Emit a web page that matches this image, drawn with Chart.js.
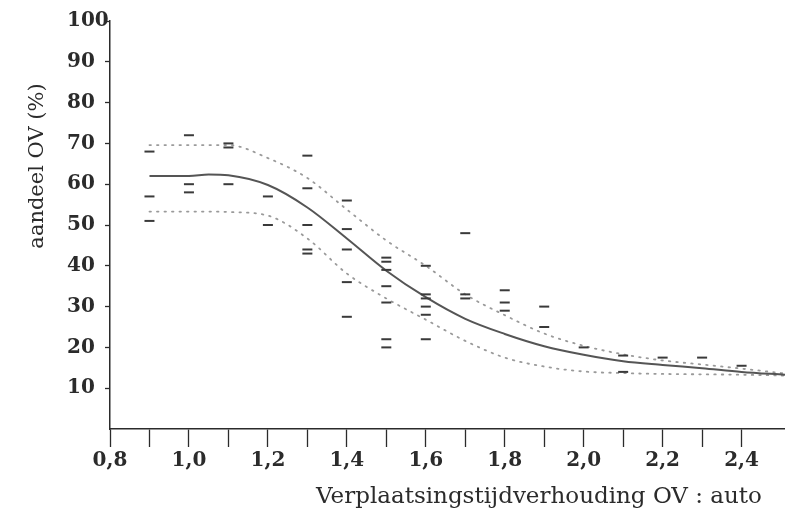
<!DOCTYPE html>
<html>
<head>
<meta charset="utf-8">
<script src="https://cdn.jsdelivr.net/npm/chart.js@4"></script>
<style>
  body { margin: 0; background: #fff; }
  #wrap { width: 785px; height: 513px; }
</style>
</head>
<body>
<div id="wrap"><canvas id="chart"></canvas></div>
<script>
// Observed shares (dash markers)
const obsX = [0.9, 0.9, 0.9, 1.0, 1.0, 1.0, 1.1, 1.1, 1.1, 1.2, 1.2,
  1.3, 1.3, 1.3, 1.3, 1.3, 1.4, 1.4, 1.4, 1.4, 1.4,
  1.5, 1.5, 1.5, 1.5, 1.5, 1.5, 1.5, 1.6, 1.6, 1.6, 1.6, 1.6, 1.6,
  1.7, 1.7, 1.7, 1.8, 1.8, 1.8, 1.9, 1.9, 2.0, 2.1, 2.1, 2.2, 2.3, 2.4];
const obsY = [68, 57, 51, 72, 60, 58, 70, 69, 60, 57, 50,
  67, 59, 50, 44, 43, 56, 49, 44, 36, 27.5,
  42, 41, 39, 35, 31, 22, 20, 40, 33, 32, 30, 28, 22,
  48, 33, 32, 34, 31, 29, 30, 25, 20, 18, 14, 17.5, 17.5, 15.5];

// Fitted curve and its band
const fitX = [0.9, 1.0, 1.05, 1.1, 1.2, 1.3, 1.4, 1.5, 1.6, 1.7, 1.8, 1.9, 2.0, 2.1, 2.2, 2.3, 2.4, 2.51];
const fitY = [62, 62, 62.4, 62.2, 59.8, 54.3, 46.7, 38.8, 32.3, 27.0, 23.3, 20.3, 18.2, 16.6, 15.7, 14.9, 14.0, 13.3];
const upperY = [69.6, 69.6, 69.6, 69.6, 66.4, 61.5, 53.8, 46.2, 40.0, 33.0, 27.9, 23.4, 20.4, 18.3, 16.8, 15.8, 14.8, 13.6];
const lowerY = [53.3, 53.3, 53.3, 53.2, 52.3, 46.7, 38.1, 32.0, 26.8, 21.6, 17.5, 15.3, 14.1, 13.7, 13.5, 13.4, 13.3, 13.1];

const xTitle = "Verplaatsingstijdverhouding OV : auto";
const yTitle = "aandeel OV (%)";

const ink = "#2b2b2b";
const tickFont = { family: "DejaVu Serif", size: 20, weight: "bold" };

function pairs(xs, ys) {
  return xs.map((x, i) => ({ x: x, y: ys[i] }));
}

// Axis titles sit off-centre in the original, so draw them ourselves
const axisTitles = {
  id: "axisTitles",
  afterDraw(chart) {
    const ctx = chart.ctx;
    const area = chart.chartArea;
    ctx.save();
    ctx.fillStyle = ink;
    ctx.textAlign = "center";
    ctx.textBaseline = "middle";
    ctx.font = '23px "DejaVu Serif"';
    ctx.fillText(xTitle, area.right - 246, area.bottom + 68);
    ctx.font = '21px "DejaVu Serif"';
    ctx.translate(area.left - 72, area.top + 145);
    ctx.rotate(-Math.PI / 2);
    ctx.fillText(yTitle, 0, 0);
    ctx.restore();
  },
};

const ctx = document.getElementById("chart").getContext("2d");

new Chart(ctx, {
  type: "scatter",
  data: {
    datasets: [
      {
        label: "waarnemingen",
        data: pairs(obsX, obsY),
        pointStyle: "line",
        pointRadius: 5,
        borderColor: "#3a3a3a",
        borderWidth: 2,
        backgroundColor: "#3a3a3a",
      },
      {
        type: "line",
        label: "model",
        data: pairs(fitX, fitY),
        borderColor: "#555",
        borderWidth: 2,
        pointRadius: 0,
        cubicInterpolationMode: "monotone",
      },
      {
        type: "line",
        label: "bovengrens",
        data: pairs(fitX, upperY),
        borderColor: "#9a9a9a",
        borderWidth: 1.8,
        borderDash: [1.5, 6],
        borderCapStyle: "round",
        pointRadius: 0,
        cubicInterpolationMode: "monotone",
      },
      {
        type: "line",
        label: "ondergrens",
        data: pairs(fitX, lowerY),
        borderColor: "#9a9a9a",
        borderWidth: 1.8,
        borderDash: [1.5, 6],
        borderCapStyle: "round",
        pointRadius: 0,
        cubicInterpolationMode: "monotone",
      },
    ],
  },
  options: {
    responsive: true,
    maintainAspectRatio: false,
    animation: false,
    layout: {
      autoPadding: false, // otherwise the dash markers push the right edge in
      padding: { top: 21, right: 0, left: 67, bottom: 0 },
    },
    plugins: {
      legend: { display: false },
      tooltip: { enabled: false },
    },
    scales: {
      x: {
        type: "linear",
        min: 0.8,
        max: 2.51,
        afterBuildTicks: (scale) => {
          scale.ticks = [];
          for (let i = 8; i <= 24; i++) scale.ticks.push({ value: i / 10 });
        },
        afterFit: (scale) => {
          scale.height = 84;
          scale.paddingRight = 0;
        },
        ticks: {
          color: ink,
          font: tickFont,
          padding: 2,
          maxRotation: 0,
          autoSkip: false,
          callback: (v) => (Math.round(v * 10) % 2 === 0 ? v.toFixed(1).replace(".", ",") : ""),
        },
        grid: {
          drawOnChartArea: false,
          color: ink,
          tickLength: 18,
          tickWidth: 1.3,
        },
        border: { color: ink, width: 1.5 },
      },
      y: {
        min: 0,
        max: 100,
        afterBuildTicks: (scale) => {
          scale.ticks = [];
          for (let v = 10; v <= 100; v += 10) scale.ticks.push({ value: v });
        },
        afterFit: (scale) => {
          scale.width = 43;
        },
        ticks: {
          color: ink,
          font: tickFont,
          padding: 3,
          crossAlign: "far",
          autoSkip: false,
        },
        grid: {
          drawOnChartArea: false,
          color: ink,
          tickLength: 5,
          tickWidth: 1.3,
        },
        border: { color: ink, width: 1.5 },
      },
    },
  },
  plugins: [axisTitles],
});
</script>
</body>
</html>
